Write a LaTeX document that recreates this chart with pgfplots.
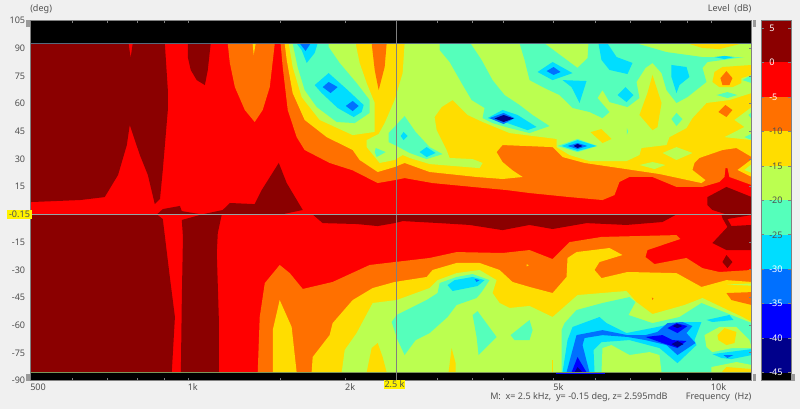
\documentclass[border=0pt]{standalone}
\usepackage{fontspec}
\setmainfont{Noto Sans}
\usepackage{pgfplots}
\pgfplotsset{compat=1.18}

% level bands, dB
\definecolor{bgc}{HTML}{F0F0F0}
\definecolor{txt}{HTML}{505050}
\definecolor{frm}{HTML}{808080}
\definecolor{cA}{HTML}{8B0000}  % 5..0
\definecolor{cB}{HTML}{FF0000}  % 0..-5
\definecolor{cC}{HTML}{FF7000}  % -5..-10
\definecolor{cD}{HTML}{FFDD00}  % -10..-15
\definecolor{cE}{HTML}{BBFF50}  % -15..-20
\definecolor{cF}{HTML}{55FFBB}  % -20..-25
\definecolor{cG}{HTML}{00DDFF}  % -25..-30
\definecolor{cH}{HTML}{0070FF}  % -30..-35
\definecolor{cI}{HTML}{0000FF}  % -35..-40
\definecolor{cJ}{HTML}{00008B}  % -40..-45

\newcommand{\band}[2]{\addplot[fill=#1,draw=none,forget plot] coordinates {#2} --cycle;}
\newcommand{\fs}{\fontsize{6.8}{8}\selectfont\color{txt}}

\begin{document}
\begin{tikzpicture}
\fill[bgc] (0,0) rectangle (600pt,306.75pt);
\useasboundingbox (0,0) rectangle (600pt,306.75pt);

\begin{axis}[
  at={(22.875pt,21.375pt)}, anchor=south west,
  scale only axis, width=540.9pt, height=269.85pt,
  xmode=log, xmin=500, xmax=11950, ymin=-90, ymax=105,
  axis on top,
  axis line style={frm,line width=0.75pt},
  tick style={frm,line width=0.5pt},
  tick align=inside, major tick length=2pt,
  xminorticks=false,
  xtick={500,600,700,800,900,1000,1500,2000,3000,3500,4000,5000,6000,7000,8000,9000,10000},
  xticklabels={500,,,,,1k,,2k,,,,5k,,,,,10k},
  xticklabel style={font=\fs,anchor=north west,inner sep=0pt,yshift=-2.2pt,xshift=-0.4pt},
  xticklabel pos=bottom,
  ytick={-90,-75,-60,-45,-30,-15,15,30,45,60,75,90,105},
  ytick pos=right,
  yticklabel pos=left,
  yticklabel style={font=\fs,/pgf/number format/assume math mode=true,inner sep=0pt,xshift=-3.8pt},
]
% base: everything that is not painted below is the 0..-5 band
\band{cB}{(500,-85.6)(11950,-85.6)(11950,92.7)(500,92.7)}

% above 0 dB
\band{cA}{(500,92.7)(770,92.7)(777,84.8)(784,92.7)(903,92.7)(915,67.4)(915,56.6)(895,24.1)(884,8.4)(864,5.6)(838,21.4)(809,32.2)(774,48.5)(764,37.6)(735,21.4)(693,9.4)(622,7.8)(500,6.7)}
\band{cA}{(999,92.7)(1105,92.7)(1091,78.3)(1077,70.1)(1039,72.8)(1012,78.3)(999,85.3)}
\band{cA}{(872,0)(895,2.9)(965,4.6)(973,1.8)(1063,0)(1165,2.4)(1202,6.2)(1341,5.6)(1383,13.2)(1491,27.9)(1544,17)(1657,2.4)(1510,0)}
\band{cA}{(500,0)(872,0)(895,-2.5)(923,-33.9)(944,-55.6)(931,-85.6)(500,-85.6)}
\band{cA}{(969,-85.6)(973,-46.4)(978,-12.2)(973,-3)(1063,0)(1160,0)(1140,-10.1)(1135,-20.9)(1145,-55.6)(1145,-85.6)}
\band{cA}{(1731,0)(1809,-4.7)(2100,-5.2)(2304,-6.3)(2483,-4.7)(2572,-3.6)(3026,-4.7)(3453,-5.7)(3992,-8.5)(4495,-5.7)(4975,-7.9)(5778,-4.7)(6887,-5.7)(8070,-4.1)(8582,0)}
\band{cA}{(9835,9.4)(10692,14.9)(11950,9.4)(11950,0)(10692,0)(10053,2.4)(9835,5.1)}
\band{cA}{(10460,0)(11950,0)(11950,-0.3)(10740,-2.5)(10930,-6.3)(11950,-5.7)(11950,-19.3)(10692,-19.3)(10053,-15.5)(10740,-6.8)(10506,-2)}
\band{cA}{(10506,-25.8)(10692,-22)(10978,-25.8)(10740,-29.1)}

% -5 dB
\band{cC}{(1191,92.7)(1202,82.1)(1229,69)(1284,56.6)(1341,50.1)(1389,56.6)(1433,69)(1465,92.7)}
\band{cD}{(1329,92.7)(1347,92.7)(1335,86.4)}
\band{cC}{(1503,92.7)(1517,79.9)(1551,56.6)(1613,41.9)(1671,34.9)(1865,27.9)(2064,23.9)(2304,17)(2483,18.6)(2594,19.7)(2934,17)(3499,14.9)(4063,13.2)(4495,11.6)(5360,9.4)(6197,7.8)(6534,10.5)(6678,17.6)(6978,20.3)(7722,20.3)(8582,14.9)(9622,14.9)(10366,17.6)(10600,20.3)(10646,25.1)(10740,25.1)(10832,20.3)(11950,15.9)(11950,92.7)}
\band{cC}{(1359,-85.6)(1371,-55.6)(1402,-37.2)(1497,-27.4)(1565,-31.8)(1657,-40.4)(1890,-36.6)(2224,-27.4)(2483,-25.8)(2896,-23.6)(3261,-20.4)(3992,-20.9)(4495,-19.3)(4975,-24.2)(5360,-15)(6170,-12.2)(8582,-11.2)(8733,-13.3)(7554,-19.3)(7488,-23.1)(7790,-26.9)(8967,-23.6)(9622,-29.1)(10366,-31.2)(11950,-30.1)(11950,-85.6)}
\band{cD}{(4440,-27)(4480,-27.5)(4440,-28.2)}

% -10 dB
\band{cD}{(1530,92.7)(1544,83.7)(1585,65.8)(1671,51.2)(1841,41.9)(2064,34.9)(2128,29.5)(2304,23)(2483,25.7)(2594,27.9)(2896,23)(3561,20.3)(3992,19.2)(4360,20.3)(4171,23.9)(3992,28.4)(3888,33.8)(3992,37.6)(4975,36.5)(5198,31.1)(5726,27.9)(7292,23.5)(7963,21.9)(9579,17)(9750,18.6)(9207,24.1)(9289,27.9)(9494,30.6)(10506,34.9)(11173,36)(11950,31.1)(11950,92.7)}
\band{cD}{(11950,29.9)(11224,24.1)(11950,20.3)}
\band{cE}{(11950,27.3)(11574,24.1)(11950,22.5)}
\band{cD}{(1452,-85.6)(1452,-62.7)(1497,-46.4)(1578,-61)(1613,-85.6)}
\band{cD}{(1723,-85.6)(1731,-77.3)(1865,-65.4)(1890,-58.9)(2064,-46.4)(2254,-39.9)(2483,-36.6)(2858,-33.9)(2934,-30.1)(3261,-26.3)(3608,-26.3)(3940,-30.1)(4171,-36.6)(4495,-39.3)(4975,-42.6)(5290,-33.9)(5313,-23.6)(5528,-20.4)(6391,-18.2)(6767,-22)(6116,-25.8)(5984,-30.1)(6170,-34.5)(6917,-31.2)(8582,-31.8)(9579,-39.3)(10692,-35.6)(11950,-36.6)(11950,-85.6)}
\band{cC}{(10692,-42.6)(11950,-42.1)(11950,-49.1)(10930,-46.4)}
\band{cE}{(10692,-38)(11950,-37.4)(11950,-38.6)}

% -15 dB
\band{cE}{(1558,92.7)(1585,79.9)(1649,63.6)(1785,51.2)(2064,43)(2274,44.7)(2274,60.4)(2195,71.2)(2128,82.1)(2091,92.7)}
\band{cE}{(2594,92.7)(2572,76.6)(2483,62)(2376,49.5)(2314,43.6)(2195,40.3)(2195,36.5)(2324,27.9)(2483,29.5)(2572,32.2)(2652,30.6)(2896,27.3)(3608,25.1)(3656,27.9)(3499,30)(3162,30.6)(3120,34.9)(2986,45.7)(2960,52.8)(3053,58.2)(3204,62)(3423,53.9)(3656,50.1)(4117,44.1)(5062,40.9)(5062,36.5)(5360,32.2)(5853,28.9)(6887,28.9)(7292,32.2)(7357,36)(8212,37.6)(8321,41.9)(8967,46.8)(9207,52.2)(9792,60.4)(10832,62)(11950,65.8)(11950,92.7)}
\band{cC}{(2244,92.7)(2397,92.7)(2376,79.9)(2314,67.4)(2274,78.3)}
\band{cD}{(9010,92.7)(11473,92.7)(10366,89.6)(9622,90.2)}
\band{cD}{(10053,71.8)(10143,77.2)(10506,79.9)(11950,81)(11950,75.6)(11420,73.9)(11420,71.2)(10978,69)(10366,69)}
\band{cD}{(7722,75.6)(8035,60.4)(7893,47.3)(7722,45.7)(7292,53.9)(7554,65.8)}
\band{cD}{(6170,46.3)(6447,40.9)(6197,38.7)(5879,44.6)}
\band{cE}{(11950,58.2)(11076,51.2)(11574,47.4)(10600,41.9)(11950,40.3)}
\band{cE}{(8070,33.3)(8582,36.5)(9207,33.3)(8582,29.5)}
\band{cE}{(7292,26.8)(7722,28.4)(8176,26.8)(7790,24.6)}
\band{cC}{(10692,77.7)(10978,73.9)(10832,70.1)(10506,70.1)(10413,73.9)}
\band{cC}{(10646,59.3)(10978,56.6)(10692,52.8)(10320,55.5)}
\band{cE}{(1967,-85.6)(1993,-73.5)(2100,-64.3)(2254,-48)(2505,-46.4)(2896,-39.9)(2999,-35.6)(3261,-31.8)(3608,-30.1)(3888,-35.6)(3820,-42.6)(3940,-48)(4117,-50.7)(4495,-49.6)(4975,-55.6)(5552,-43.7)(6887,-41.5)(7197,-47.5)(7722,-54)(8889,-49.1)(9622,-45.3)(11473,-55.6)(11950,-58.3)(11950,-85.6)}
\band{cD}{(2195,-85.6)(2244,-72.4)(2304,-69.7)(2355,-77.3)(2397,-85.6)}
\band{cD}{(3148,-85.6)(3190,-72.4)(3247,-80.6)(3247,-85.6)}
\band{cD}{(4960,-85.6)(4960,-79)(4985,-79)(4985,-85.6)}
\band{cC}{(7700,-45)(7760,-45.6)(7720,-46.4)}

% -20 dB
\band{cF}{(1585,92.7)(1620,79.9)(1671,67.4)(1762,58.2)(1924,50.1)(2082,49.5)(2224,55)(2224,62)(2100,71.2)(1949,82.1)(1857,90.7)(1857,92.7)}
\band{cF}{(2284,36)(2387,33.8)(2294,31.1)(2274,33.8)}
\band{cF}{(2594,53.3)(2723,44.7)(2896,36.5)(3066,32.7)(2858,30)(2652,33.3)(2505,37.1)(2417,39.2)(2417,44.1)}
\band{cF}{(3026,92.7)(3468,92.7)(3640,83.7)(3820,72.8)(4027,64.7)(4302,59.3)(4555,53.9)(4909,47.9)(4495,44.1)(4117,46.8)(3820,49.5)(3656,52.2)(3688,57.7)(3484,62)(3333,71.2)(3162,82.6)(3026,89.1)}
\band{cF}{(4302,92.7)(4802,92.7)(5552,79.4)(5803,84.8)(5827,92.7)(7197,92.7)(8212,88)(9622,85.3)(11574,85.3)(9835,82.6)(9622,79.4)(9792,71.8)(9007,63.6)(8582,60.4)(8212,67.4)(8035,76.6)(7722,82.1)(7488,79.4)(7197,71.8)(7292,63.1)(6917,58.2)(6391,60.9)(6197,67.4)(6062,63.1)(6391,55.5)(6197,52.2)(5853,55.5)(5432,57.7)(5129,64.7)(4802,68.5)(4495,72.8)(4398,83.7)}
\band{cF}{(10232,64.7)(10740,66.3)(11224,64.7)(10740,63.1)}
\band{cF}{(8395,51.7)(8582,55)(8811,51.7)(8582,47.9)}
\band{cF}{(11950,75.6)(11473,72.8)(11950,71.2)}
\band{cF}{(11950,55.5)(11778,53.9)(11950,51.7)}
\band{cF}{(11950,43.8)(11574,41.9)(11950,40.3)}
\band{cF}{(6900,46.8)(6940,45)(6900,43.2)}
\band{cF}{(5085,37.1)(5552,40.9)(6062,37.1)(5552,33.8)}
\band{cF}{(2450,-58.3)(2505,-54.5)(2858,-46.4)(2999,-42.6)(3026,-37.2)(3261,-33.9)(3499,-32.3)(3770,-35.6)(3640,-42.1)(3561,-45.3)(3261,-49.1)(3134,-55.6)(2896,-64.3)(2723,-68.1)(2594,-76.2)(2516,-68.1)}
\band{cF}{(3499,-54.5)(3576,-52.4)(3888,-66.4)(3592,-76.2)(3561,-66.4)}
\band{cF}{(4135,-65.4)(4495,-57.2)(4555,-62.7)(4495,-68.1)(4208,-68.1)}
\band{cF}{(5175,-85.6)(5175,-62.7)(5244,-58.9)(5528,-51.8)(6197,-48)(6978,-44.8)(7165,-47.5)(6947,-54.5)(7722,-58.9)(8695,-55.6)(9579,-48)(11173,-55.6)(11950,-58.9)(11950,-85.6)}
\band{cE}{(6170,-85.6)(6197,-72.4)(6447,-70.8)(6978,-76.2)(7620,-74.6)(7963,-76.2)(8035,-85.6)}
\band{cE}{(9707,-65.4)(10366,-61)(11173,-61)(11829,-68.1)(11950,-72.4)(10978,-72.4)(10053,-74.6)(9792,-71.9)}
\band{cD}{(10276,-65.4)(10600,-61.6)(11173,-63.7)(11076,-69.7)(10692,-70.8)(10320,-68.1)}
\band{cE}{(10009,-82.7)(11173,-80)(11950,-81.6)(11950,-85.6)(10009,-85.6)}
\band{cD}{(10460,-85.6)(10692,-82.7)(11950,-83.8)(11950,-85.6)}

% -25 dB
\band{cG}{(1613,92.7)(1769,92.7)(1746,87.5)(1686,82.1)(1649,89.1)}
\band{cG}{(1857,76.6)(2019,67.4)(2166,59.3)(2147,55.5)(2073,52.8)(1932,57.7)(1801,65.8)(1746,70.1)}
\band{cG}{(2583,44.7)(2629,42.5)(2583,40.3)(2549,42.5)}
\band{cG}{(2858,36.5)(2973,33.3)(2858,31.1)(2771,33.8)}
\band{cG}{(3737,52.2)(3992,56.6)(4264,53.9)(4636,47.4)(4455,45.7)(4081,49.5)}
\band{cG}{(4657,77.2)(4975,82.6)(5432,76.6)(4975,72.8)}
\band{cG}{(5198,72.8)(5776,72.3)(5601,60.4)(5408,69)}
\band{cG}{(6089,92.7)(6335,92.7)(6593,85.3)(7072,82.1)(6917,76.1)(6391,78.3)(6170,83.7)}
\band{cG}{(6857,69)(7103,64.7)(6887,60.9)(6621,64.7)}
\band{cG}{(8395,81)(8967,79.9)(9085,74.5)(8695,70.1)(8582,65.8)(8395,74.5)}
\band{cG}{(10143,85.3)(10600,85.9)(11076,85.3)(10600,84.2)}
\band{cG}{(5175,37.1)(5552,40.3)(6036,37.1)(5552,34.4)}
\band{cG}{(3134,-38.3)(3232,-35.6)(3499,-33.9)(3688,-35.6)(3576,-38.8)(3204,-41.5)}
\band{cG}{(10053,-75.7)(11950,-73)(11950,-76.2)(10930,-78.4)(10460,-77.8)}
\band{cG}{(9792,-57.2)(10832,-54.5)(11027,-57.2)(10053,-58.3)}
\band{cG}{(5198,-85.6)(5313,-68.1)(5432,-61)(6116,-55.6)(6307,-58.9)(6887,-64.3)(7893,-61)(8695,-58.3)(9579,-58.3)(9289,-68.1)(9372,-70.8)(8620,-80.6)(7963,-72.4)(6978,-68.1)(6170,-69.2)(5958,-73.5)(5984,-85.6)}

% -30 dB
\band{cH}{(1635,92.7)(1715,92.7)(1678,88.6)}
\band{cH}{(1857,71.8)(1932,69)(1873,65.8)(1809,69)}
\band{cH}{(2064,61.5)(2119,58.8)(2064,56)(2002,58.8)}
\band{cH}{(3770,52.2)(4010,55)(4208,52.2)(4010,49)}
\band{cH}{(4845,77.7)(4997,79.9)(5152,77.2)(4997,75.6)}
\band{cH}{(5313,37.1)(5552,38.7)(5801,37.1)(5552,35.4)}
\band{cH}{(3530,-35)(3608,-35.6)(3561,-36.6)}
\band{cH}{(10553,-76.2)(11027,-76.2)(10740,-77.8)}
\band{cH}{(5290,-85.6)(5528,-65.4)(6197,-62.7)(6917,-65.4)(7488,-65.4)(7893,-63.7)(8249,-58.9)(8811,-58.3)(9207,-60.5)(8967,-64.3)(9330,-69.7)(8620,-76.2)(8212,-70.8)(7488,-68.1)(6917,-66.4)(6197,-65.4)(5726,-67)(5676,-70.8)(5853,-85.6)}

% -35 dB
\band{cI}{(5408,-85.6)(5552,-77.3)(5778,-85.6)}
\band{cI}{(7488,-66.4)(8070,-65.4)(8433,-68.1)(8967,-68.6)(8620,-72.4)(8070,-69.7)}
\band{cI}{(8249,-61.6)(8582,-58.9)(9007,-60.5)(8620,-64.3)}

% -40 dB
\band{cJ}{(3854,52)(4010,53.9)(4190,52)(4010,50.1)}
\band{cJ}{(5456,37.1)(5552,38.2)(5676,37.1)(5552,36)}
\band{cJ}{(5480,-85.6)(5552,-82.7)(5676,-85.6)}
\band{cJ}{(8433,-60.5)(8620,-59.4)(8811,-60.5)(8620,-61.6)}
\band{cJ}{(8395,-70.3)(8620,-68.6)(8850,-70.3)(8620,-71.9)}

% no data
\band{black}{(500,92.7)(11950,92.7)(11950,105)(500,105)}
\band{black}{(500,-85.6)(11950,-85.6)(11950,-90)(500,-90)}
\band{cI}{(5050,-85.6)(6270,-85.6)(6270,-86.4)(5050,-86.4)}

% edges of the measured area
\addplot[color={rgb,255:red,85;green,105;blue,125},line width=0.5pt,forget plot] coordinates {(500,92.7)(11950,92.7)};
\addplot[color={rgb,255:red,125;green,150;blue,90},line width=0.5pt,forget plot] coordinates {(500,-85.6)(11950,-85.6)};

% cursor
\addplot[frm,line width=0.75pt,forget plot] coordinates {(2500,105)(2500,-90)};
\addplot[color={rgb,255:red,150;green,165;blue,165},line width=0.75pt,forget plot] coordinates {(500,-0.15)(11950,-0.15)};
\end{axis}

% colour bar
\begin{axis}[
  at={(570.75pt,21.375pt)}, anchor=south west,
  scale only axis, width=22.5pt, height=269.85pt,
  xmin=0, xmax=1, ymin=-46.13, ymax=6.06,
  axis on top,
  axis line style={frm,line width=0.75pt},
  xtick=\empty,
  tick style={frm,line width=0.5pt},
  tick align=inside, major tick length=2pt,
  ytick={-45,-40,...,5},
  yticklabels={\textcolor{white}{-45},\textcolor{white}{-40},\textcolor{white}{-35},\textcolor{white}{-30},\textcolor{txt}{-25},\textcolor{txt}{-20},\textcolor{txt}{-15},\textcolor{txt}{-10},\textcolor{white}{-5},\textcolor{white}{0},\textcolor{white}{5}},
  yticklabel style={font=\fontsize{6.8}{8}\selectfont,anchor=west,inner sep=0pt,xshift=6pt},
]
\band{black}{(0,-46.13)(1,-46.13)(1,-45)(0,-45)}
\band{cJ}{(0,-45)(1,-45)(1,-40)(0,-40)}
\band{cI}{(0,-40)(1,-40)(1,-35)(0,-35)}
\band{cH}{(0,-35)(1,-35)(1,-30)(0,-30)}
\band{cG}{(0,-30)(1,-30)(1,-25)(0,-25)}
\band{cF}{(0,-25)(1,-25)(1,-20)(0,-20)}
\band{cE}{(0,-20)(1,-20)(1,-15)(0,-15)}
\band{cD}{(0,-15)(1,-15)(1,-10)(0,-10)}
\band{cC}{(0,-10)(1,-10)(1,-5)(0,-5)}
\band{cB}{(0,-5)(1,-5)(1,0)(0,0)}
\band{cA}{(0,0)(1,0)(1,6.06)(0,6.06)}
\end{axis}

% window text, in page pixels (y up from the bottom edge)
\begin{scope}[x=0.75pt,y=0.75pt]
\node[anchor=west,inner sep=0pt,font=\fs] at (30,400) {(deg)};
\node[anchor=east,inner sep=0pt,font=\fs] at (751.5,400) {Level\ \ (dB)};
\node[anchor=west,inner sep=0pt,font=\fs] at (490,12) {M:\ \ x= 2.5 kHz,\ \ y= -0.15 deg, z= 2.595mdB};
\node[anchor=east,inner sep=0pt,font=\fs] at (751.5,12) {Frequency\ \ (Hz)};
\node[fill=yellow,inner sep=0pt,minimum width=20.5*0.75pt,minimum height=8.5*0.75pt,font=\fs] at (394.5,24.5) {2.5 k};
\node[fill=yellow,inner sep=0pt,minimum width=25*0.75pt,minimum height=9.5*0.75pt,font=\fs] at (19.5,194.5) {-0.15};
\fill[frm!80!white] (26,382) rectangle (29.5,389);
\fill[frm!80!white] (26,28) rectangle (29.5,35);
\fill[frm!80!white] (752.5,382) rectangle (756,389);
\fill[frm!80!white] (752.5,28) rectangle (756,35);
\fill[frm!80!white] (791,28) rectangle (795,35);
\end{scope}
\end{tikzpicture}
\end{document}
